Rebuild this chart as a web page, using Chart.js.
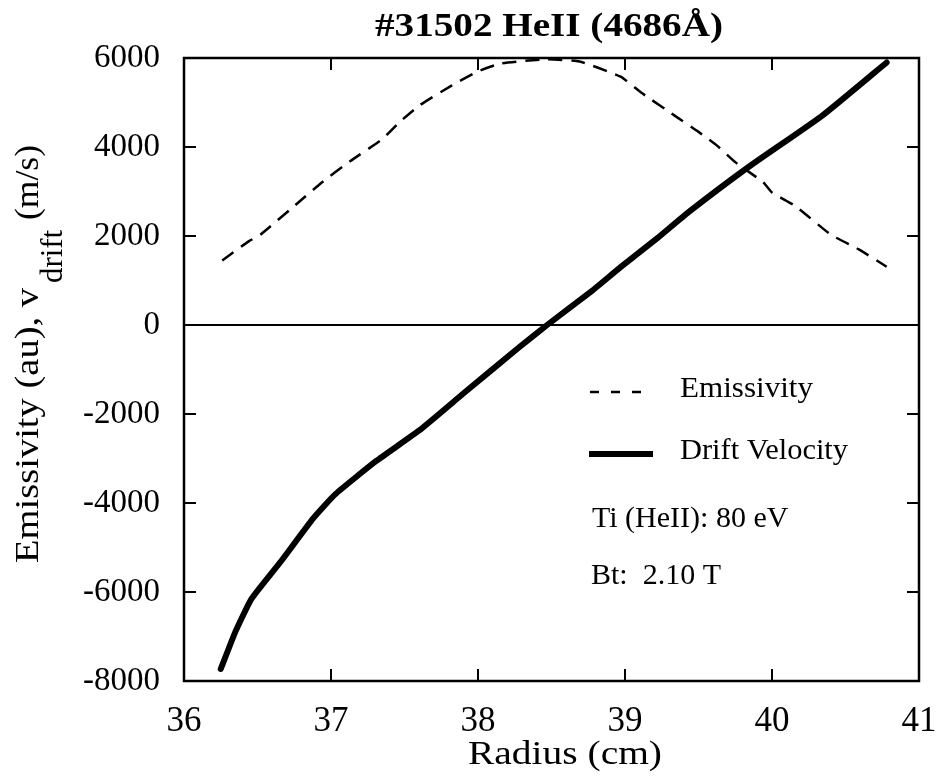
<!DOCTYPE html>
<html>
<head>
<meta charset="utf-8">
<script src="https://cdn.jsdelivr.net/npm/chart.js@4/dist/chart.umd.min.js"></script>
<style>
  html, body { margin: 0; padding: 0; background: #fff; }
  #wrap { width: 945px; height: 777px; }
</style>
</head>
<body>
<div id="wrap"><canvas id="myChart" width="945" height="777"></canvas></div>
<script>
// values
const emRadius = [36.26, 36.44, 36.52, 36.78, 36.94, 37.13, 37.35, 37.47, 37.6, 37.82, 38.0, 38.16, 38.47, 38.69, 38.97, 39.12, 39.34, 39.5, 39.63, 39.75, 39.94, 40.0, 40.16, 40.4, 40.59, 40.78];
const emissivity = [1450, 1880, 2030, 2760, 3210, 3680, 4180, 4570, 4930, 5380, 5700, 5880, 5970, 5920, 5580, 5200, 4700, 4340, 4020, 3660, 3210, 2980, 2670, 2030, 1700, 1310];

const driftRadius = [36.25, 36.35, 36.46, 36.66, 36.88, 37.03, 37.31, 37.6, 37.9, 38.28, 38.47, 38.78, 38.97, 39.22, 39.43, 39.84, 40.34, 40.78];
const driftVelocity = [-7730, -6890, -6150, -5310, -4340, -3800, -3050, -2370, -1540, -500, 0, 780, 1300, 1950, 2530, 3550, 4700, 5900];

const xTicks = [36, 37, 38, 39, 40, 41];
const yTicks = [-8000, -6000, -4000, -2000, 0, 2000, 4000, 6000];

const titleText = '#31502 HeII (4686\u00C5)';
const xTitle = 'Radius (cm)';
const legendItems = ['Emissivity', 'Drift Velocity'];
const notes = ['Ti (HeII): 80 eV', 'Bt:  2.10 T'];

const serif = '"Liberation Serif", "Times New Roman", serif';

const toPoints = (xs, ys) => xs.map((x, i) => ({ x: x, y: ys[i] }));

// text squeezed/stretched along its own direction to a given width (scan is a bit wide)
function fitText(ctx, text, x, y, width) {
    const w = ctx.measureText(text).width;
    ctx.save();
    ctx.translate(x, y);
    ctx.scale(width / w, 1);
    ctx.fillText(text, 0, 0);
    ctx.restore();
}

// frame, inward ticks, zero line, titles, legend, notes
const decorations = {
    id: 'decorations',
    afterDraw(chart) {
        const ctx = chart.ctx;
        const a = chart.chartArea;
        const xs = chart.scales.x;
        const ys = chart.scales.y;
        ctx.save();
        ctx.strokeStyle = '#000';
        ctx.fillStyle = '#000';
        ctx.lineWidth = 2.5;
        ctx.strokeRect(a.left, a.top, a.right - a.left, a.bottom - a.top);

        ctx.lineWidth = 2;
        ctx.beginPath();
        xTicks.forEach(t => {
            const px = xs.getPixelForValue(t);
            ctx.moveTo(px, a.bottom); ctx.lineTo(px, a.bottom - 12);
            ctx.moveTo(px, a.top); ctx.lineTo(px, a.top + 12);
        });
        yTicks.forEach(t => {
            const py = ys.getPixelForValue(t);
            ctx.moveTo(a.left, py); ctx.lineTo(a.left + 12, py);
            ctx.moveTo(a.right, py); ctx.lineTo(a.right - 12, py);
        });
        ctx.stroke();

        const y0 = ys.getPixelForValue(0);
        ctx.beginPath();
        ctx.moveTo(a.left, y0); ctx.lineTo(a.right, y0);
        ctx.stroke();

        // title
        ctx.textAlign = 'left';
        ctx.textBaseline = 'alphabetic';
        ctx.font = 'bold 33px ' + serif;
        fitText(ctx, titleText, 375, 36, 348);

        // x axis title
        ctx.font = '34px ' + serif;
        fitText(ctx, xTitle, 468, 764, 194);

        // y axis title with subscript
        ctx.save();
        ctx.translate(38, 563);
        ctx.rotate(-Math.PI / 2);
        ctx.font = '33px ' + serif;
        fitText(ctx, 'Emissivity (au), v', 0, 0, 275);
        ctx.font = '31px ' + serif;
        fitText(ctx, 'drift', 280, 24, 53);
        ctx.font = '33px ' + serif;
        fitText(ctx, '(m/s)', 343, 0, 75);
        ctx.restore();

        // legend
        ctx.beginPath();
        ctx.setLineDash([9, 12]);
        ctx.lineWidth = 2.5;
        ctx.moveTo(590, 392); ctx.lineTo(642, 392);
        ctx.stroke();
        ctx.setLineDash([]);
        ctx.beginPath();
        ctx.lineWidth = 6;
        ctx.moveTo(589, 454); ctx.lineTo(653, 454);
        ctx.stroke();

        ctx.font = '30px ' + serif;
        fitText(ctx, legendItems[0], 680, 397, 133);
        fitText(ctx, legendItems[1], 680, 459, 168);
        fitText(ctx, notes[0], 592, 527, ctx.measureText(notes[0]).width);
        fitText(ctx, notes[1], 591, 584, ctx.measureText(notes[1]).width);
        ctx.restore();
    }
};

const ctx = document.getElementById('myChart').getContext('2d');

new Chart(ctx, {
    type: 'line',
    data: {
        datasets: [{
            label: legendItems[0],
            data: toPoints(emRadius, emissivity),
            borderColor: '#000',
            borderWidth: 2.5,
            borderDash: [14, 9],
            pointRadius: 0,
            tension: 0.15,
            clip: false
        }, {
            label: legendItems[1],
            data: toPoints(driftRadius, driftVelocity),
            borderColor: '#000',
            borderWidth: 6,
            borderCapStyle: 'round',
            pointRadius: 0,
            tension: 0.15,
            clip: false
        }]
    },
    options: {
        responsive: false,
        animation: false,
        layout: {
            padding: { left: 0, right: 26, top: 58, bottom: 0 }
        },
        scales: {
            x: {
                type: 'linear',
                min: 36,
                max: 41,
                afterBuildTicks: scale => { scale.ticks = xTicks.map(v => ({ value: v })); },
                afterFit: scale => {
                    scale.height = 96;
                    scale.paddingLeft = 0;
                    scale.paddingRight = 0;
                },
                grid: { display: false, drawTicks: false },
                border: { display: false },
                ticks: {
                    color: '#000',
                    padding: 20,
                    maxRotation: 0,
                    font: { family: serif, size: 35 },
                    callback: v => String(v)
                }
            },
            y: {
                type: 'linear',
                min: -8000,
                max: 6000,
                afterBuildTicks: scale => { scale.ticks = yTicks.map(v => ({ value: v })); },
                afterFit: scale => { scale.width = 184; },
                grid: { display: false, drawTicks: false },
                border: { display: false },
                ticks: {
                    color: '#000',
                    padding: 24,
                    font: { family: serif, size: 33 },
                    callback: v => String(v)
                }
            }
        },
        plugins: {
            legend: { display: false },
            title: { display: false },
            tooltip: { enabled: false }
        }
    },
    plugins: [decorations]
});
</script>
</body>
</html>
